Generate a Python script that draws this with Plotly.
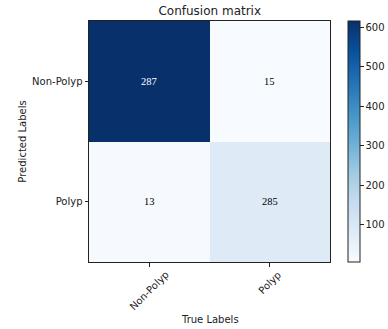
import plotly.graph_objects as go
import plotly.colors as pc

# Class names
class_names = ["Non-Polyp", "Polyp"]

# Counts printed in each cell (rows = predicted, columns = true)
cell_counts = [[287, 15],
               [13, 285]]

# Values behind the cell shading (scale of the colour bar)
shade_values = [[616, 6],
                [9, 82]]

colorbar_ticks = [100, 200, 300, 400, 500, 600]

blues = pc.sequential.Blues
n = len(blues)
colorscale = [[i / (n - 1), c] for i, c in enumerate(blues)]

zmin = min(min(r) for r in shade_values)
zmax = max(max(r) for r in shade_values)
mid = (zmin + zmax) / 2

W, H = 388, 329
L, R, T, B = 89, 57.5, 20.5, 67
PH = H - T - B
TXT = "#222222"

fig = go.Figure()
fig.add_trace(go.Heatmap(
    z=shade_values,
    x=class_names,
    y=class_names,
    colorscale=colorscale,
    zmin=zmin, zmax=zmax,
    xgap=0, ygap=0,
    hoverinfo="skip",
    colorbar=dict(
        x=1.0766, xanchor="left", xpad=0,
        y=0.5, yanchor="middle", len=1.0, lenmode="fraction",
        thickness=12, thicknessmode="pixels",
        outlinecolor=TXT, outlinewidth=1,
        tickvals=colorbar_ticks,
        ticks="outside", ticklen=3.5, tickcolor=TXT,
        tickfont=dict(family="DejaVu Sans", size=10, color=TXT),
        ypad=0,
    ),
))

for i, row in enumerate(cell_counts):
    for j, v in enumerate(row):
        fig.add_annotation(
            x=class_names[j], y=class_names[i], text=str(v),
            showarrow=False,
            font=dict(family="Liberation Serif, Times New Roman, serif", size=10.5,
                      color="white" if shade_values[i][j] > mid else "black"),
        )

# Rotated x tick labels, centred under their ticks
for name in class_names:
    fig.add_annotation(
        x=name, xref="x", yref="paper", y=-(266 - (H - B)) / PH,
        text=name, textangle=-45, xanchor="center", yanchor="top",
        showarrow=False, font=dict(family="DejaVu Sans", size=10, color=TXT),
    )

# Axis titles placed in paper coordinates
fig.add_annotation(
    text="True Labels", xref="paper", yref="paper",
    x=0.5, y=-(320 - (H - B)) / PH, xanchor="center", yanchor="middle",
    showarrow=False, font=dict(family="DejaVu Sans", size=10, color=TXT),
)
fig.add_annotation(
    text="Predicted Labels", xref="paper", yref="paper",
    x=-(L - 22) / (W - L - R), y=0.5, xanchor="center", yanchor="middle",
    textangle=-90, showarrow=False,
    font=dict(family="DejaVu Sans", size=10, color=TXT),
)

axis_common = dict(
    showline=True, mirror=True, linecolor=TXT, linewidth=1,
    ticks="outside", ticklen=3.5, tickcolor=TXT,
    tickfont=dict(family="DejaVu Sans", size=10, color=TXT),
    showgrid=False, zeroline=False, automargin=False,
)

fig.update_layout(
    width=W, height=H,
    margin=dict(l=L, r=R, t=T, b=B, autoexpand=False),
    paper_bgcolor="white", plot_bgcolor="white",
    title=dict(text="Confusion matrix", x=(L + (W - R)) / 2 / W, xanchor="center",
               y=1 - 11 / H, yanchor="middle",
               font=dict(family="DejaVu Sans", size=12, color=TXT)),
    xaxis=dict(axis_common, showticklabels=False),
    yaxis=dict(axis_common, autorange="reversed"),
)

fig.write_html("out.html")
